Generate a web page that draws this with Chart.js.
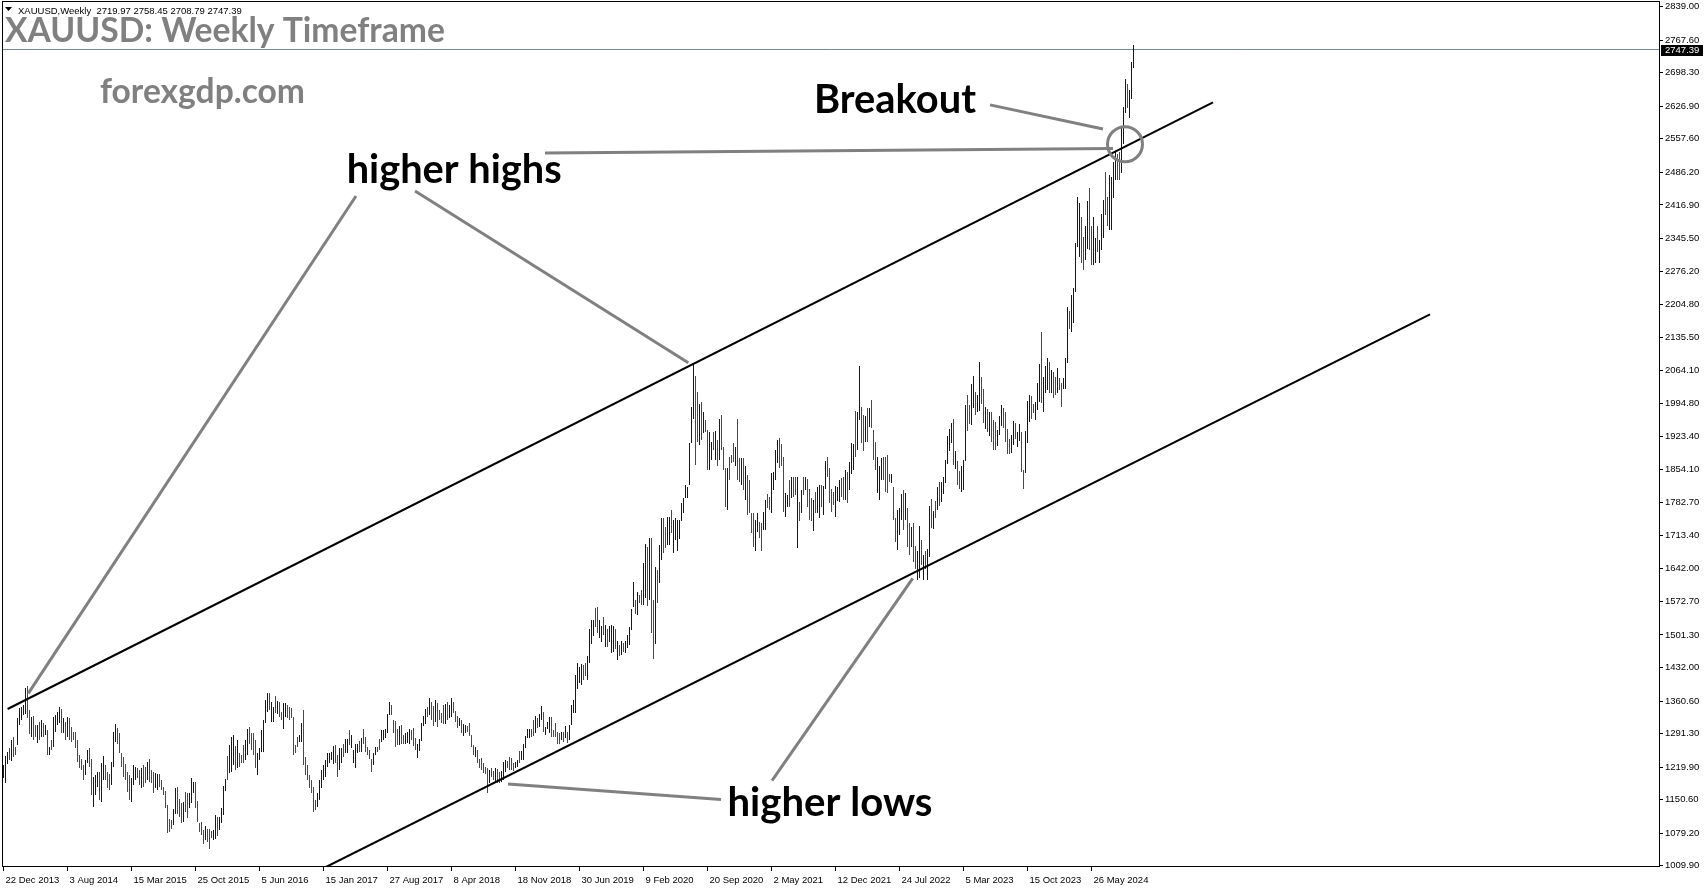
<!DOCTYPE html>
<html>
<head>
<meta charset="utf-8">
<title>XAUUSD Weekly</title>
<script src="https://cdn.jsdelivr.net/npm/chart.js@4.4.1/dist/chart.umd.min.js"></script>
<style>
  html, body { margin: 0; padding: 0; background: #fff; }
  canvas { display: block; }
</style>
</head>
<body>
<canvas id="chart" width="1705" height="888"></canvas>
<script>
// ---- data (weekly bars, first bar = week of 22 Dec 2013) ----
const symbolTitle = "XAUUSD,Weekly";
const lastBar = { open: 2719.97, high: 2758.45, low: 2708.79, close: 2747.39 };

const barHigh = [
  1224,1243,1253,1260,1277,1283,1263,1324,1345,1348, 1352,1388,1392,1341,1327,1329,1309,1309,1316,1320,
  1313,1309,1299,1263,1277,1327,1331,1338,1348,1343, 1324,1317,1326,1324,1306,1295,1295,1277,1246,1238,
  1224,1235,1256,1260,1238,1199,1203,1210,1210,1228, 1243,1224,1210,1206,1231,1295,1312,1304,1292,1249,
  1242,1226,1210,1203,1196,1224,1221,1217,1214,1217, 1224,1221,1231,1238,1214,1210,1208,1206,1206,1192,
  1178,1170,1139,1109,1108,1131,1175,1178,1153,1143, 1146,1167,1164,1165,1197,1189,1189,1148,1101,1104,
  1086,1094,1089,1089,1084,1086,1118,1114,1114,1132, 1180,1194,1243,1267,1283,1288,1265,1278,1249,1246,
  1267,1278,1302,1306,1293,1292,1278,1249,1260,1299, 1320,1363,1377,1377,1359,1348,1371,1361,1359,1338,
  1356,1357,1352,1348,1345,1326,1267,1285,1288,1313, 1341,1242,1224,1203,1192,1178,1150,1165,1192,1214,
  1224,1234,1249,1249,1253,1265,1267,1246,1260,1260, 1270,1279,1280,1299,1288,1256,1270,1270,1276,1281,
  1300,1285,1263,1256,1238,1249,1262,1263,1279,1299, 1299,1302,1334,1359,1352,1320,1318,1300,1307,1309,
  1288,1292,1295,1301,1299,1304,1281,1270,1280,1313, 1328,1343,1348,1368,1359,1350,1363,1356,1341,1336,
  1352,1354,1359,1352,1368,1359,1340,1329,1324,1321, 1311,1309,1307,1314,1288,1267,1263,1256,1238,1240,
  1228,1221,1217,1214,1217,1212,1217,1215,1210,1212, 1231,1236,1233,1242,1240,1229,1231,1235,1255,1255,
  1270,1286,1302,1302,1300,1320,1329,1324,1334,1350, 1338,1306,1316,1326,1327,1299,1314,1295,1293,1295,
  1295,1307,1295,1309,1352,1363,1416,1442,1434,1439, 1437,1441,1456,1513,1534,1533,1558,1560,1534,1520,
  1539,1522,1515,1520,1522,1520,1515,1489,1480,1489, 1485,1489,1501,1519,1556,1615,1575,1593,1586,1597,
  1654,1696,1689,1707,1707,1575,1647,1640,1693,1750, 1750,1732,1753,1753,1767,1746,1750,1746,1746,1782,
  1792,1821,1817,1909,1987,2078,2053,2019,1994,1998, 1977,1959,1938,1934,1913,1934,1936,1916,1962,1970,
  1902,1856,1856,1881,1884,1909,1902,1962,1877,1879, 1877,1860,1842,1831,1762,1760,1746,1760,1742,1740,
  1764,1789,1801,1794,1847,1849,1895,1916,1920,1908, 1881,1803,1799,1831,1837,1837,1838,1838,1785,1810,
  1838,1838,1833,1813,1792,1789,1806,1817,1821,1821, 1818,1872,1881,1856,1813,1806,1818,1817,1831,1835,
  1837,1853,1849,1870,1909,1908,1979,1975,2074,1987, 1970,1967,1984,1984,2002,1938,1913,1881,1860,1877,
  1881,1881,1884,1845,1845,1817,1750,1767,1771,1801, 1810,1803,1771,1739,1732,1739,1691,1679,1733,1703,
  1671,1679,1684,1776,1790,1766,1787,1816,1828,1828, 1837,1874,1925,1939,1953,1962,1894,1872,1851,1860,
  1874,1991,2012,1991,2036,2053,2019,2012,2083,2050, 2024,1987,1982,1977,1975,1960,1955,1938,1967,1991,
  1984,1977,1939,1918,1927,1957,1952,1934,1950,1934, 1852,1936,2000,2012,2010,1994,1998,2037,2079,2147,
  2051,2074,2090,2083,2065,2062,2051,2069,2048,2037, 2048,2090,2199,2192,2225,2239,2335,2434,2422,2392,
  2349,2371,2426,2452,2371,2391,2346,2372,2342,2398, 2427,2488,2434,2481,2477,2509,2531,2525,2529,2586,
  2625,2685,2674,2661,2721,2758.45
];

const barLow = [
  1196,1185,1226,1235,1233,1242,1246,1268,1309,1320, 1331,1334,1324,1290,1285,1277,1285,1272,1277,1285,
  1285,1288,1246,1246,1256,1263,1295,1309,1313,1293, 1292,1277,1285,1277,1274,1277,1260,1231,1217,1214,
  1192,1203,1228,1221,1160,1136,1160,1178,1150,1146, 1192,1192,1175,1171,1182,1221,1274,1270,1249,1221,
  1199,1192,1167,1150,1146,1182,1192,1196,1182,1175, 1178,1185,1192,1189,1185,1165,1175,1171,1178,1171,
  1160,1132,1080,1082,1088,1096,1121,1121,1114,1101, 1104,1125,1111,1132,1143,1164,1132,1104,1082,1075,
  1057,1065,1061,1046,1070,1065,1066,1073,1086,1100, 1118,1168,1192,1207,1210,1224,1214,1217,1221,1228,
  1228,1235,1246,1270,1256,1246,1217,1203,1235,1253, 1253,1313,1338,1341,1317,1317,1336,1334,1327,1320,
  1302,1327,1324,1320,1324,1246,1249,1263,1274,1274, 1224,1203,1192,1175,1164,1125,1128,1136,1150,1175,
  1192,1198,1221,1228,1236,1226,1228,1199,1214,1228, 1242,1249,1249,1267,1260,1228,1217,1249,1253,1253,
  1270,1253,1246,1238,1210,1224,1246,1253,1256,1274, 1277,1281,1292,1331,1331,1292,1263,1268,1266,1269,
  1269,1269,1272,1270,1277,1265,1256,1240,1255,1275, 1307,1311,1326,1331,1320,1308,1317,1306,1320,1313,
  1312,1311,1320,1324,1327,1336,1317,1304,1307,1293, 1286,1293,1294,1286,1263,1246,1241,1228,1217,1214,
  1208,1206,1164,1185,1199,1192,1189,1187,1185,1189, 1192,1210,1217,1214,1214,1212,1217,1221,1228,1235,
  1236,1260,1281,1281,1283,1286,1292,1304,1306,1321, 1294,1288,1302,1292,1285,1285,1285,1270,1270,1277,
  1274,1281,1272,1277,1309,1336,1336,1387,1398,1395, 1405,1414,1405,1441,1483,1498,1519,1505,1494,1487,
  1501,1476,1476,1487,1462,1466,1471,1448,1456,1459, 1466,1462,1473,1480,1512,1560,1545,1544,1569,1565,
  1565,1579,1563,1576,1505,1451,1483,1569,1611,1661, 1675,1686,1693,1693,1718,1675,1703,1679,1706,1743,
  1760,1792,1792,1821,1909,1962,1863,1913,1906,1916, 1931,1934,1852,1852,1874,1895,1874,1860,1874,1895,
  1852,1774,1767,1831,1867,1870,1860,1831,1828,1821, 1810,1789,1757,1760,1719,1689,1679,1721,1707,1681,
  1725,1725,1771,1767,1760,1810,1831,1867,1856,1860, 1764,1753,1774,1774,1792,1796,1799,1686,1743,1760,
  1799,1810,1774,1746,1743,1723,1760,1760,1750,1774, 1757,1813,1838,1782,1764,1778,1753,1787,1785,1796,
  1789,1789,1782,1810,1845,1852,1881,1895,1959,1909, 1892,1913,1913,1945,1941,1874,1852,1803,1789,1831,
  1831,1806,1804,1828,1824,1746,1700,1682,1714,1746, 1725,1746,1689,1671,1689,1657,1641,1618,1622,1650,
  1618,1641,1618,1668,1728,1726,1750,1767,1776,1785, 1801,1824,1865,1892,1911,1863,1854,1821,1811,1806,
  1810,1872,1936,1950,1948,1984,1970,1977,1979,1994, 1953,1939,1934,1925,1913,1896,1895,1904,1927,1946,
  1943,1913,1887,1887,1888,1906,1918,1902,1915,1849, 1811,1847,1911,1955,1962,1973,1960,1980,1998,1996,
  1975,2016,2023,2016,2016,2005,2012,2016,2023,1986, 2024,2026,2081,2152,2147,2165,2232,2328,2307,2293,
  2278,2300,2324,2321,2289,2289,2293,2317,2293,2321, 2346,2395,2371,2364,2364,2431,2470,2471,2471,2485,
  2546,2613,2624,2603,2643,2708.79
];

// u = bullish (blue) week, d = bearish (red) week
const barDir = (
  "uuududduuu" + "uudduddudu" + "dududuuuud" + "ududdddddd" + "duudduuudu" +
  "uddduuuddd" + "dddduuuddu" + "dduddduudd" + "ddddduuddd" + "udduuudddd" +
  "duddduuduu" + "uuduuududd" + "duudddduuu" + "uuuduududd" + "uudddddduu" +
  "ddddddduuu" + "uuuuuudduu" + "duuduuuudu" + "ddddduuddu" + "uuuuddddud" +
  "duuuddduuu" + "uududduddd" + "duduudddud" + "uudddduddd" + "dddudduddu" +
  "uudddduudu" + "uuuudduduu" + "duuudddddu" + "duduuuuuuu" + "dduuuudduu" +
  "duduuududu" + "duuuuududd" + "uududduduu" + "dduuduuuuu" + "uuuuuuddud" +
  "udduududud" + "dduddduddu" + "dudddduudd" + "uudduuuudd" + "duududdudu" +
  "duddduduud" + "uudddduuud" + "duduuuduud" + "dududdduuu" + "ddddudduuu" +
  "duddu" + "dduududuud" + "ududuuuuuu" + "dudduuuddu" + "uduuddudud" +
  "dduuuddddu" + "uduudduuu" + "dduuuduuud" + "uddudduuud" + "uuuuudduud" +
  "duuduuuddu" + "uuudduuudu" + "uu"
).split("");

const dateLabels = [
  "22 Dec 2013", "3 Aug 2014", "15 Mar 2015", "25 Oct 2015", "5 Jun 2016", "15 Jan 2017",
  "27 Aug 2017", "8 Apr 2018", "18 Nov 2018", "30 Jun 2019", "9 Feb 2020", "20 Sep 2020",
  "2 May 2021", "12 Dec 2021", "24 Jul 2022", "5 Mar 2023", "15 Oct 2023", "26 May 2024"
];
const weeksPerDateLabel = 32;

const priceTicks = [
  2839.00, 2767.60, 2698.30, 2626.90, 2557.60, 2486.20, 2416.90, 2345.50, 2276.20,
  2204.80, 2135.50, 2064.10, 1994.80, 1923.40, 1854.10, 1782.70, 1713.40, 1642.00,
  1572.70, 1501.30, 1432.00, 1360.60, 1291.30, 1219.90, 1150.60, 1079.20, 1009.90
];

// channel lines as [week index, price]
const upperChannel = [[2.05, 1343.6], [604.75, 2635.4]];
const lowerChannel = [[161.25, 1007.2], [713.25, 2184.0]];

// grey annotation pointers, [week index, price] -> [week index, price]
const pointerLines = [
  [[176.25, 2435.9], [12.4, 1377.0]],
  [[205.75, 2446.6], [342.4, 2081.0]],
  [[270.75, 2527.5], [554.75, 2537.1]],
  [[493.25, 2629.9], [549.75, 2578.6]],
  [[358.75, 1151.1], [252.25, 1183.9]],
  [[384.25, 1191.1], [454.6, 1621.9]]
];
const breakoutRing = { week: 560.75, price: 2546.0 };

const chartNotes = [
  { text: "Breakout", week: 405.25, price: 2612.7, width: 162 },
  { text: "higher highs", week: 171.6, price: 2462.9, width: 215 },
  { text: "higher lows", week: 362.0, price: 1115.8, width: 205 }
];

// ---- chart ----
const UP = "#0000d0", DOWN = "#f00000", GREY = "#808080";
const AXIS_FONT = { family: "'Liberation Sans', Arial, sans-serif", size: 9.5 };

const bars = barHigh.map((h, i) => ({ x: i, y: [barLow[i], h] }));
const barColors = barDir.map(d => (d === "u" ? UP : DOWN));
const toXY = pts => pts.map(p => ({ x: p[0], y: p[1] }));

function fitText(ctx, text, x, y, width, color) {
  ctx.font = "bold 40px Lato, 'Open Sans', sans-serif";
  const size = 40 * width / ctx.measureText(text).width;
  ctx.font = "bold " + size.toFixed(2) + "px Lato, 'Open Sans', sans-serif";
  ctx.fillStyle = color;
  ctx.textAlign = "left";
  ctx.textBaseline = "alphabetic";
  ctx.fillText(text, x, y);
}

const mtDecor = {
  id: "mtDecor",
  afterDatasetsUpdate(chart) {
    // keep the 1px bars on whole pixels so they stay crisp
    chart.data.datasets.forEach((ds, k) => {
      if (ds.type !== "bar") return;
      chart.getDatasetMeta(k).data.forEach(el => {
        el.x = Math.floor(el.x) + 0.5;
        el.width = 1;
        el.y = Math.round(el.y);
        el.base = Math.round(el.base);
      });
    });
  },
  beforeDatasetsDraw(chart) {
    const { ctx, chartArea: a, scales: { y } } = chart;
    const py = Math.floor(y.getPixelForValue(lastBar.close)) + 0.5;
    ctx.save();
    ctx.strokeStyle = "#778899";
    ctx.lineWidth = 1;
    ctx.beginPath();
    ctx.moveTo(a.left, py);
    ctx.lineTo(a.right, py);
    ctx.stroke();
    ctx.restore();
  },
  afterDatasetsDraw(chart) {
    const { ctx, chartArea: a, scales: { x, y } } = chart;
    ctx.save();
    ctx.beginPath();
    ctx.rect(a.left, a.top, a.right - a.left, a.bottom - a.top);
    ctx.clip();

    ctx.strokeStyle = GREY;
    ctx.lineWidth = 3;
    pointerLines.forEach(([p, q]) => {
      ctx.beginPath();
      ctx.moveTo(x.getPixelForValue(p[0]), y.getPixelForValue(p[1]));
      ctx.lineTo(x.getPixelForValue(q[0]), y.getPixelForValue(q[1]));
      ctx.stroke();
    });
    ctx.beginPath();
    ctx.arc(x.getPixelForValue(breakoutRing.week), y.getPixelForValue(breakoutRing.price), 17.5, 0, Math.PI * 2);
    ctx.stroke();

    chartNotes.forEach(n => {
      fitText(ctx, n.text, x.getPixelForValue(n.week), y.getPixelForValue(n.price), n.width, "#000");
    });
    ctx.restore();
  },
  afterDraw(chart) {
    const { ctx, chartArea: a, scales: { y } } = chart;
    ctx.save();
    // frame
    ctx.strokeStyle = "#000";
    ctx.lineWidth = 1;
    ctx.strokeRect(a.left + 0.5, a.top - 0.5, a.right - a.left, a.bottom - a.top);

    // symbol header
    ctx.fillStyle = "#000";
    ctx.beginPath();
    ctx.moveTo(5, 7); ctx.lineTo(12, 7); ctx.lineTo(8.5, 11); ctx.closePath();
    ctx.fill();
    ctx.font = "9.5px 'Liberation Sans', Arial, sans-serif";
    ctx.textAlign = "left";
    ctx.textBaseline = "alphabetic";
    const ohlc = [lastBar.open, lastBar.high, lastBar.low, lastBar.close].map(v => v.toFixed(2)).join(" ");
    ctx.fillText(symbolTitle + "  " + ohlc, 18, 13.5);

    // title and watermark
    fitText(ctx, "XAUUSD: Weekly Timeframe", 5, 42, 440, GREY);
    fitText(ctx, "forexgdp.com", 100, 103, 205, GREY);

    // current price tag
    const py = y.getPixelForValue(lastBar.close);
    ctx.fillStyle = "#000";
    ctx.fillRect(a.right + 2, Math.round(py) - 5, 42, 11);
    ctx.fillStyle = "#fff";
    ctx.font = "9.5px 'Liberation Sans', Arial, sans-serif";
    ctx.textBaseline = "middle";
    ctx.fillText(lastBar.close.toFixed(2), a.right + 6, py + 0.5);
    ctx.restore();
  }
};

new Chart(document.getElementById("chart"), {
  type: "bar",
  data: {
    datasets: [
      {
        type: "line", data: toXY(upperChannel), borderColor: "#000", borderWidth: 2,
        pointRadius: 0, tension: 0, order: 0
      },
      {
        type: "line", data: toXY(lowerChannel), borderColor: "#000", borderWidth: 2,
        pointRadius: 0, tension: 0, order: 0
      },
      {
        type: "bar", data: bars, backgroundColor: barColors, borderWidth: 0,
        barThickness: 1, inflateAmount: 0, order: 1
      }
    ]
  },
  options: {
    responsive: false,
    animation: false,
    devicePixelRatio: 1,
    layout: { padding: { left: 2, top: 2, right: 0, bottom: 0 } },
    plugins: { legend: { display: false }, tooltip: { enabled: false } },
    scales: {
      x: {
        type: "linear",
        min: -0.75,
        max: 827.75,
        bounds: "data",
        offset: false,
        grid: { display: true, drawOnChartArea: false, drawTicks: true, tickLength: 4, color: "#000", offset: false },
        border: { display: false },
        afterBuildTicks: s => { s.ticks = dateLabels.map((_, k) => ({ value: k * weeksPerDateLabel })); },
        afterFit: s => { s.height = 21; s.paddingLeft = 0; s.paddingRight = 0; },
        ticks: {
          autoSkip: false, maxRotation: 0, align: "start", labelOffset: 2, padding: 4,
          color: "#000", font: AXIS_FONT,
          callback: v => dateLabels[Math.round(v / weeksPerDateLabel)]
        }
      },
      y: {
        type: "linear",
        position: "right",
        min: 1007.2,
        max: 2849.0,
        bounds: "data",
        grid: { display: true, drawOnChartArea: false, drawTicks: true, tickLength: 4, color: "#000" },
        border: { display: false },
        afterBuildTicks: s => { s.ticks = priceTicks.map(v => ({ value: v })); },
        afterFit: s => { s.width = 46; s.paddingTop = 0; s.paddingBottom = 0; },
        ticks: {
          autoSkip: false, padding: 2, color: "#000", font: AXIS_FONT,
          callback: v => Number(v).toFixed(2)
        }
      }
    }
  },
  plugins: [mtDecor]
});
</script>
</body>
</html>
